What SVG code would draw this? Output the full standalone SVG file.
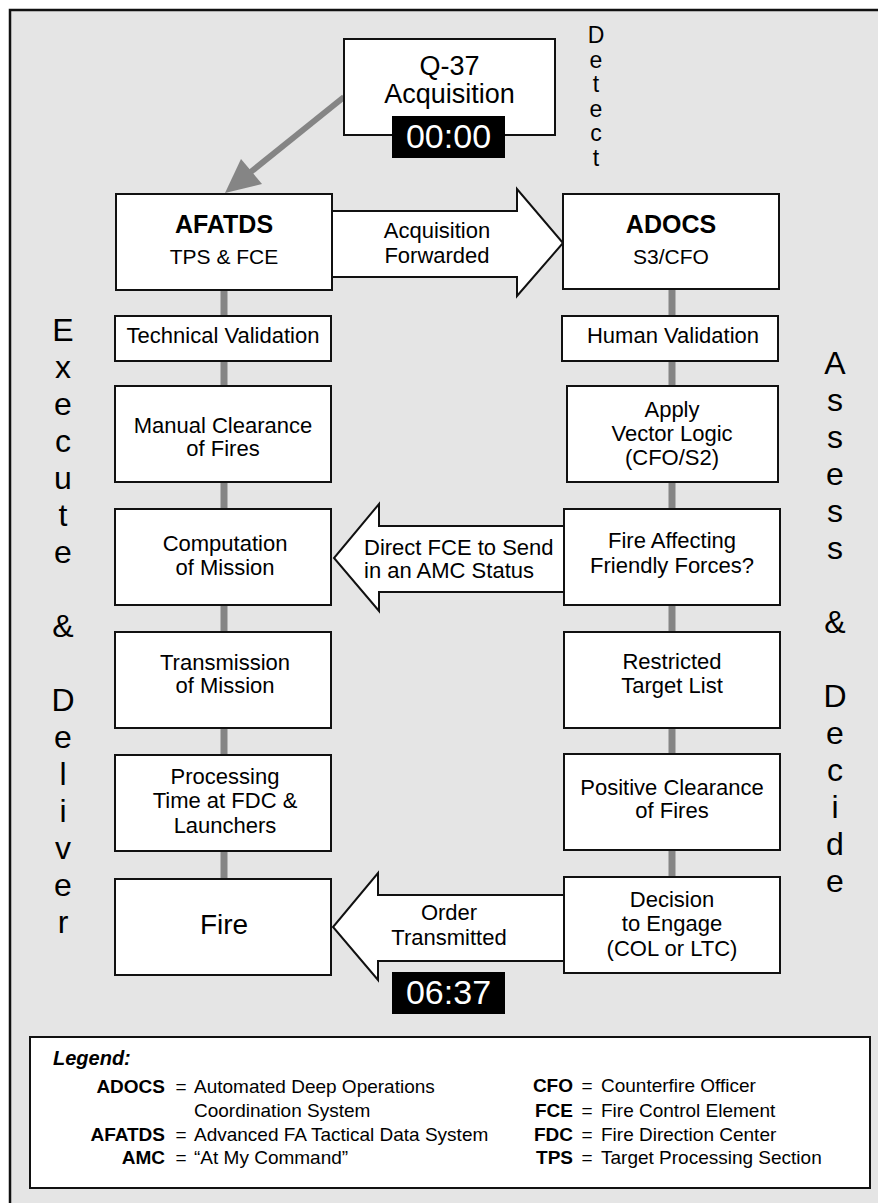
<svg xmlns="http://www.w3.org/2000/svg" width="878" height="1203" viewBox="0 0 878 1203">
<style>
text { font-family: "Liberation Sans", Arial, sans-serif; fill: #000; }
.box { fill: #fff; stroke: #111; stroke-width: 2; }
.t { font-size: 22px; text-anchor: middle; }
.tl { font-size: 22px; }
.b { font-weight: bold; font-size: 25px; text-anchor: middle; }
.q { font-size: 27px; text-anchor: middle; }
.fire { font-size: 28px; text-anchor: middle; }
.conn { stroke: #858585; stroke-width: 7; fill: none; }
.big { fill: #fff; stroke: #111; stroke-width: 2; stroke-linejoin: miter; }
.side { font-size: 32px; text-anchor: middle; }
.det { font-size: 23px; text-anchor: middle; }
.ct { font-size: 34px; fill: #fff; text-anchor: middle; }
.lg { font-size: 19px; }
.lb { font-size: 19px; font-weight: bold; text-anchor: end; }
.eq { font-size: 19px; text-anchor: middle; }
</style>
<rect x="10" y="10" width="890" height="1210" fill="#e5e5e5" stroke="#111" stroke-width="2.5"/>

<g id="connectors">
  <line class="conn" x1="224" y1="290" x2="224" y2="878"/>
  <line class="conn" x1="672" y1="290" x2="672" y2="878"/>
  <line x1="344" y1="97" x2="247" y2="175" stroke="#858585" stroke-width="6"/>
  <polygon points="225,193 241,159 262,184" fill="#858585"/>
  <g id="arrow-forwarded">
    <polygon class="big" points="332,211 517,211 517,189 563,243 517,296 517,277 332,277"/>
    <text class="t" x="437" y="238">Acquisition</text>
    <text class="t" x="437" y="263">Forwarded</text>
  </g>
  <g id="arrow-direct">
    <polygon class="big" points="564,526 379,526 379,504 334,558 379,611 379,592 564,592"/>
    <text class="tl" x="364" y="555">Direct FCE to Send</text>
    <text class="tl" x="364" y="578">in an AMC Status</text>
  </g>
  <g id="arrow-order">
    <polygon class="big" points="564,895 378,895 378,873 333,927 378,980 378,961 564,961"/>
    <text class="t" x="449" y="920">Order</text>
    <text class="t" x="449" y="945">Transmitted</text>
  </g>
</g>

<g id="q37">
  <rect class="box" x="344" y="39" width="211" height="96"/>
  <text class="q" x="449.5" y="75">Q-37</text>
  <text class="q" x="449.5" y="103">Acquisition</text>
  <rect x="392" y="116" width="113" height="42" fill="#000"/>
  <text class="ct" x="448.5" y="148">00:00</text>
</g>

<g id="afatds">
  <rect class="box" x="116" y="194" width="216" height="96"/>
  <text class="b" x="224" y="233">AFATDS</text>
  <text class="t" x="224" y="264" style="font-size:21px">TPS &amp; FCE</text>
</g>
<g id="adocs">
  <rect class="box" x="563" y="194" width="216" height="95"/>
  <text class="b" x="671" y="233">ADOCS</text>
  <text class="t" x="671" y="264" style="font-size:21px">S3/CFO</text>
</g>

<g id="technical-validation">
  <rect class="box" x="115" y="316" width="216" height="45"/>
  <text class="t" x="223" y="343">Technical Validation</text>
</g>
<g id="human-validation">
  <rect class="box" x="562" y="316" width="216" height="45"/>
  <text class="t" x="673" y="343">Human Validation</text>
</g>

<g id="manual-clearance">
  <rect class="box" x="115" y="386" width="216" height="96"/>
  <text class="t" x="223" y="433">Manual Clearance</text>
  <text class="t" x="223" y="456">of Fires</text>
</g>
<g id="vector-logic">
  <rect class="box" x="567" y="386" width="211" height="96"/>
  <text class="t" x="672" y="417">Apply</text>
  <text class="t" x="672" y="441">Vector Logic</text>
  <text class="t" x="672" y="465">(CFO/S2)</text>
</g>

<g id="computation">
  <rect class="box" x="115" y="509" width="216" height="96"/>
  <text class="t" x="225" y="551">Computation</text>
  <text class="t" x="225" y="575">of Mission</text>
</g>
<g id="fire-affecting">
  <rect class="box" x="564" y="509" width="216" height="96"/>
  <text class="t" x="672" y="548">Fire Affecting</text>
  <text class="t" x="672" y="573">Friendly Forces?</text>
</g>

<g id="transmission">
  <rect class="box" x="115" y="632" width="216" height="96"/>
  <text class="t" x="225" y="670">Transmission</text>
  <text class="t" x="225" y="693">of Mission</text>
</g>
<g id="restricted">
  <rect class="box" x="564" y="632" width="216" height="96"/>
  <text class="t" x="672" y="669">Restricted</text>
  <text class="t" x="672" y="693">Target List</text>
</g>

<g id="processing">
  <rect class="box" x="115" y="755" width="216" height="96"/>
  <text class="t" x="225" y="784">Processing</text>
  <text class="t" x="225" y="808">Time at FDC &amp;</text>
  <text class="t" x="225" y="833">Launchers</text>
</g>
<g id="positive-clearance">
  <rect class="box" x="564" y="754" width="216" height="96"/>
  <text class="t" x="672" y="795">Positive Clearance</text>
  <text class="t" x="672" y="818">of Fires</text>
</g>

<g id="fire">
  <rect class="box" x="115" y="879" width="216" height="96"/>
  <text class="fire" x="224" y="934">Fire</text>
</g>
<g id="decision">
  <rect class="box" x="564" y="877" width="216" height="96"/>
  <text class="t" x="672" y="907">Decision</text>
  <text class="t" x="672" y="931">to Engage</text>
  <text class="t" x="672" y="956">(COL or LTC)</text>
</g>

<g id="clock-end">
  <rect x="392" y="972" width="113" height="42" fill="#000"/>
  <text class="ct" x="448.5" y="1004">06:37</text>
</g>

<g id="label-detect">
  <text class="det" x="596" y="43">D</text>
  <text class="det" x="596" y="67.6">e</text>
  <text class="det" x="596" y="92.2">t</text>
  <text class="det" x="596" y="116.8">e</text>
  <text class="det" x="596" y="141.4">c</text>
  <text class="det" x="596" y="166">t</text>
</g>

<g id="label-execute-deliver">
  <text class="side" x="63" y="341">E</text>
  <text class="side" x="63" y="378">x</text>
  <text class="side" x="63" y="415">e</text>
  <text class="side" x="63" y="452">c</text>
  <text class="side" x="63" y="489">u</text>
  <text class="side" x="63" y="526">t</text>
  <text class="side" x="63" y="563">e</text>
  <text class="side" x="63" y="637">&amp;</text>
  <text class="side" x="63" y="711">D</text>
  <text class="side" x="63" y="748">e</text>
  <text class="side" x="63" y="785">l</text>
  <text class="side" x="63" y="822">i</text>
  <text class="side" x="63" y="859">v</text>
  <text class="side" x="63" y="896">e</text>
  <text class="side" x="63" y="933">r</text>
</g>

<g id="label-assess-decide">
  <text class="side" x="835" y="374">A</text>
  <text class="side" x="835" y="411">s</text>
  <text class="side" x="835" y="448">s</text>
  <text class="side" x="835" y="485">e</text>
  <text class="side" x="835" y="522">s</text>
  <text class="side" x="835" y="559">s</text>
  <text class="side" x="835" y="633">&amp;</text>
  <text class="side" x="835" y="707">D</text>
  <text class="side" x="835" y="744">e</text>
  <text class="side" x="835" y="781">c</text>
  <text class="side" x="835" y="818">i</text>
  <text class="side" x="835" y="855">d</text>
  <text class="side" x="835" y="892">e</text>
</g>

<g id="legend">
  <rect x="30" y="1037" width="840" height="151" fill="#fff" stroke="#111" stroke-width="2"/>
  <text x="53" y="1065" style="font-size:20px;font-weight:bold;font-style:italic">Legend:</text>
  <text class="lb" x="165" y="1093">ADOCS</text>
  <text class="eq" x="181" y="1093">=</text>
  <text class="lg" x="194" y="1093">Automated Deep Operations</text>
  <text class="lg" x="194" y="1117">Coordination System</text>
  <text class="lb" x="165" y="1141">AFATDS</text>
  <text class="eq" x="181" y="1141">=</text>
  <text class="lg" x="194" y="1141">Advanced FA Tactical Data System</text>
  <text class="lb" x="165" y="1164">AMC</text>
  <text class="eq" x="181" y="1164">=</text>
  <text class="lg" x="194" y="1164">“At My Command”</text>
  <text class="lb" x="573" y="1092">CFO</text>
  <text class="eq" x="587" y="1092">=</text>
  <text class="lg" x="601" y="1092">Counterfire Officer</text>
  <text class="lb" x="573" y="1117">FCE</text>
  <text class="eq" x="587" y="1117">=</text>
  <text class="lg" x="601" y="1117">Fire Control Element</text>
  <text class="lb" x="573" y="1141">FDC</text>
  <text class="eq" x="587" y="1141">=</text>
  <text class="lg" x="601" y="1141">Fire Direction Center</text>
  <text class="lb" x="573" y="1164">TPS</text>
  <text class="eq" x="587" y="1164">=</text>
  <text class="lg" x="601" y="1164">Target Processing Section</text>
</g>
</svg>
